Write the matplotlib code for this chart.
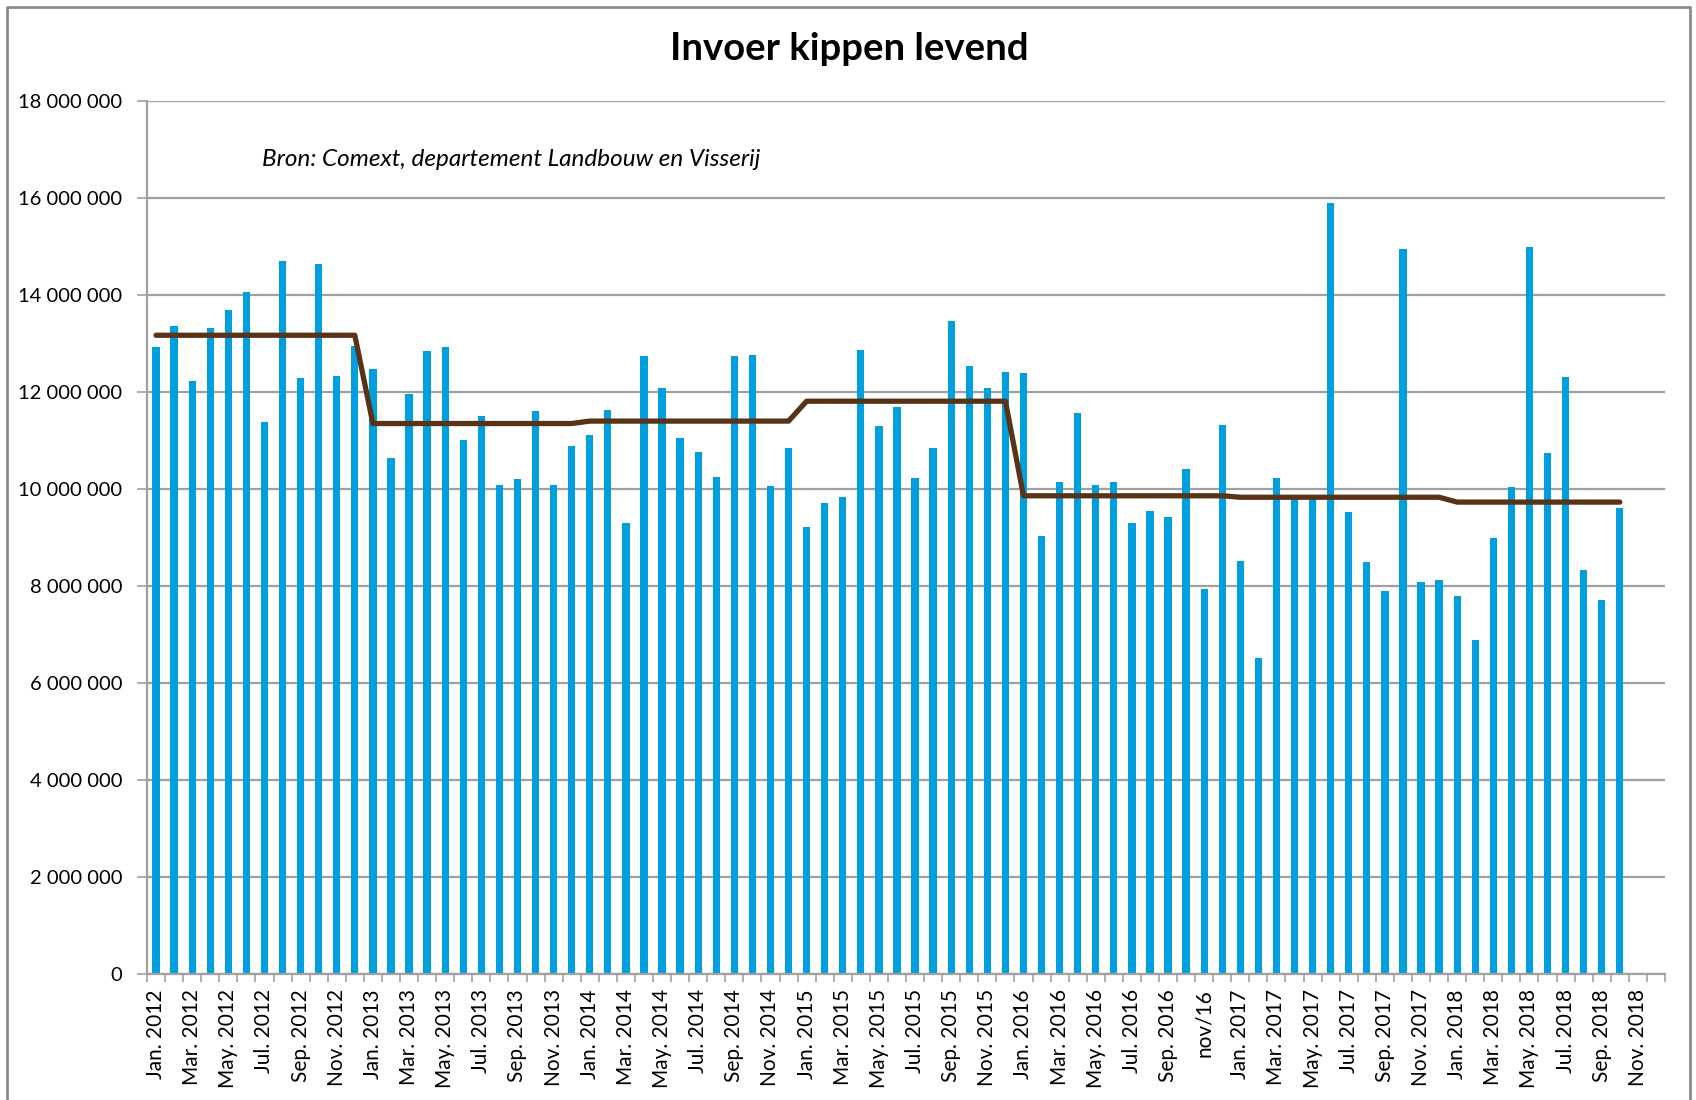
import matplotlib.pyplot as plt
from matplotlib.lines import Line2D
from matplotlib.ticker import FuncFormatter

plt.rcParams['font.family'] = ['Lato', 'DejaVu Sans']

month_names = ['Jan.', 'Feb.', 'Mar.', 'Apr.', 'May.', 'Jun.',
               'Jul.', 'Aug.', 'Sep.', 'Oct.', 'Nov.', 'Dec.']
years = [2012, 2013, 2014, 2015, 2016, 2017, 2018]

# maandelijkse invoer (aantal levende kippen), jan 2012 - okt 2018
invoer = [
    12930000, 13360000, 12220000, 13310000, 13700000, 14060000,
    11380000, 14710000, 12290000, 14640000, 12340000, 12950000,   # 2012
    12470000, 10630000, 11950000, 12840000, 12930000, 11020000,
    11500000, 10080000, 10200000, 11610000, 10080000, 10880000,   # 2013
    11110000, 11630000, 9290000, 12740000, 12080000, 11050000,
    10760000, 10250000, 12740000, 12770000, 10060000, 10840000,   # 2014
    9220000, 9720000, 9840000, 12860000, 11290000, 11700000,
    10220000, 10840000, 13470000, 12540000, 12080000, 12410000,   # 2015
    12390000, 9040000, 10150000, 11560000, 10080000, 10150000,
    9290000, 9540000, 9420000, 10410000, 7940000, 11310000,       # 2016
    8520000, 6520000, 10220000, 9800000, 9850000, 15900000,
    9520000, 8490000, 7900000, 14950000, 8080000, 8130000,        # 2017
    7790000, 6880000, 8990000, 10040000, 15000000, 10740000,
    12310000, 8330000, 7720000, 9610000,                          # 2018
]

# jaargemiddelde (bruine lijn)
jaargemiddelde = [13170000, 11350000, 11400000, 11810000, 9860000, 9830000, 9730000]

labels = [f'{m} {y}' for y in years for m in month_names]
labels[58] = 'nov/16'

fig = plt.figure(figsize=(16.96, 11), dpi=100)
ax = fig.add_axes([147 / 1696, 1 - 974 / 1100, (1665 - 147) / 1696, (974 - 101) / 1100])

x = list(range(len(invoer)))
ax.bar(x, invoer, width=0.4, color='#009FE0', zorder=2)
gem = [jaargemiddelde[i // 12] for i in x]
ax.plot(x, gem, color='#5A3317', lw=3.8, zorder=3, solid_capstyle='round')

ax.set_xlim(-0.5, len(labels) - 0.5)
ax.set_ylim(0, 18000000)
ax.set_yticks(range(0, 18000001, 2000000))
ax.yaxis.set_major_formatter(FuncFormatter(lambda v, p: f'{int(v):,}'.replace(',', ' ')))
ax.grid(axis='y', color='#A0A0A0', lw=1.6, zorder=1)

ax.set_xticks([i - 0.5 for i in range(len(labels) + 1)], minor=True)
ax.set_xticks(range(0, len(labels), 2))
ax.set_xticklabels(labels[::2], rotation=90, fontsize=15)
ax.tick_params(axis='x', which='major', length=0, pad=11)
ax.tick_params(axis='x', which='minor', length=6, width=1.2, color='#A0A0A0')
ax.tick_params(axis='y', length=7, width=1.2, color='#A0A0A0', labelsize=14.5, pad=11)

for s in ['top', 'right']:
    ax.spines[s].set_visible(False)
for s in ['left', 'bottom']:
    ax.spines[s].set_color('#A0A0A0')
    ax.spines[s].set_linewidth(1.6)

fig.text(849 / 1696, 1 - 49 / 1100, 'Invoer kippen levend', ha='center', va='center',
         fontsize=27.5, fontweight='bold')
ax.text(262 / 1696, 1 - 160 / 1100, 'Bron: Comext, departement Landbouw en Visserij',
        transform=fig.transFigure, ha='left', va='center', fontsize=17.5, style='italic')

# rand rond de figuur
fig.add_artist(Line2D([7 / 1696, 7 / 1696, 1690 / 1696, 1690 / 1696],
                      [0, 1 - 7 / 1100, 1 - 7 / 1100, 0],
                      transform=fig.transFigure, color='#8C8C8C', lw=2))

fig.savefig('out.png', dpi=100)
